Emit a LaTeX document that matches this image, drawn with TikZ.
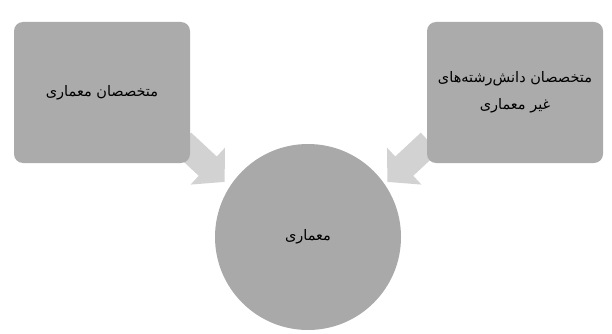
\documentclass[tikz,border=0pt]{standalone}
\usepackage{fontspec}
\usetikzlibrary{shapes.arrows}
\TeXXeTstate=1
\newfontfamily\arabicfont[Script=Arabic]{DejaVu Sans}
\definecolor{boxgray}{HTML}{ABABAB}
\definecolor{circgray}{HTML}{A9A9A9}
\definecolor{arrgray}{HTML}{D2D2D2}
\tikzset{
  boxnode/.style={fill=boxgray, rounded corners=9pt, minimum width=176pt, minimum height=141pt, inner sep=0pt, align=center, font=\arabicfont\fontsize{14.5}{27}\selectfont},
  blockarrow/.style={single arrow, fill=arrgray, minimum height=58pt, inner xsep=0pt, inner ysep=13pt, single arrow head extend=12pt, single arrow tip angle=95},
  circnode/.style={circle, fill=circgray, minimum size=186pt, inner sep=0pt, font=\arabicfont\fontsize{14.5}{17}\selectfont}
}
\begin{document}
\begin{tikzpicture}[x=1pt,y=-1pt]
\useasboundingbox (0,0) rectangle (612,334);
\node[blockarrow, rotate=-43] (arrL) at (199,158) {};
\node[blockarrow, rotate=-137] (arrR) at (413,158) {};
\node[boxnode] (left) at (102,92.5) {\beginR متخصصان معماری\endR};
\node[boxnode] (right) at (515,92.5) {\beginR متخصصان دانش‌رشته‌های\endR\\\beginR غیر معماری\endR};
\node[circnode] (center) at (308,237) {\beginR معماری\endR};
\end{tikzpicture}
\end{document}
